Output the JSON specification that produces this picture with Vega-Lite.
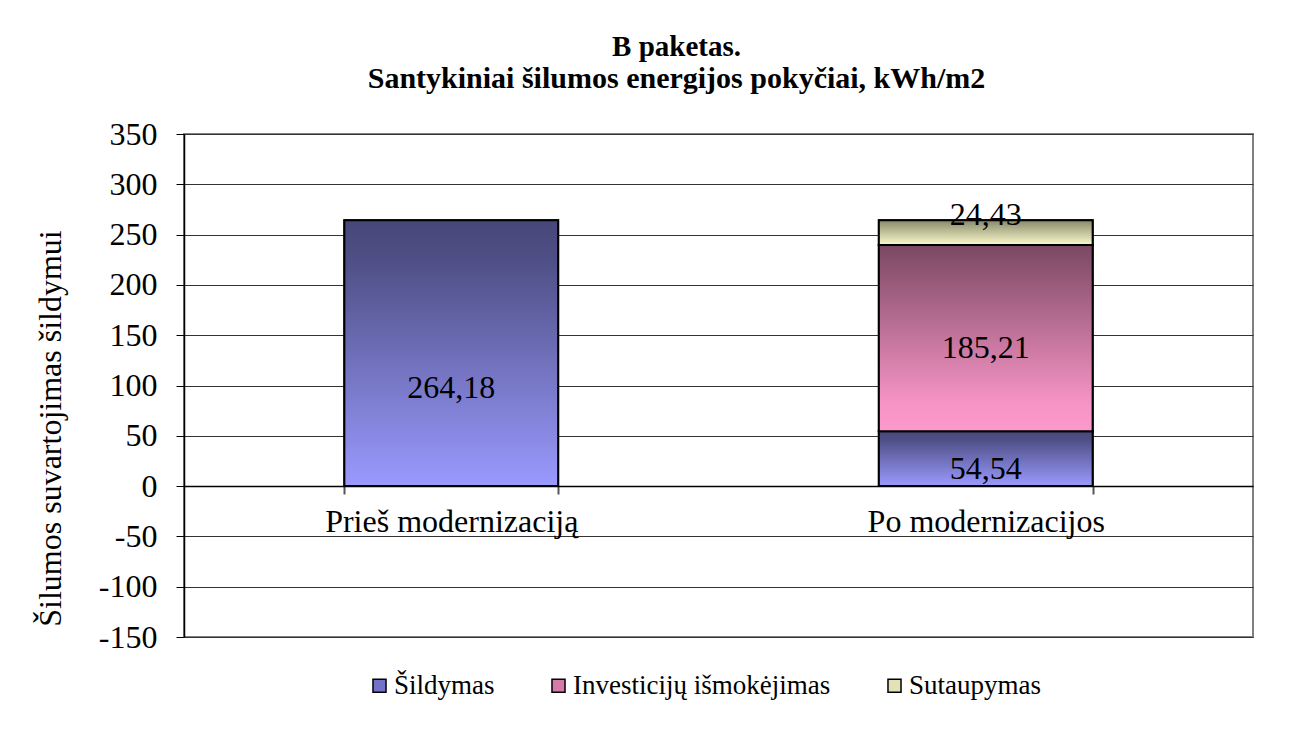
{
  "$schema": "https://vega.github.io/schema/vega-lite/v6.json",
  "autosize": {"type": "none"},
  "width": 1069,
  "height": 503,
  "padding": {"left": 184, "top": 134, "right": 54, "bottom": 103},
  "background": "white",
  "config": {
    "locale": {"number": {"decimal": ",", "thousands": ".", "grouping": [3], "currency": ["", ""], "minus": "-"}},
    "view": {"stroke": "#808080", "strokeWidth": 2},
    "font": "Liberation Serif"
  },
  "title": {
    "text": "B paketas.",
    "subtitle": "Santykiniai šilumos energijos pokyčiai, kWh/m2",
    "font": "Liberation Serif",
    "fontSize": 29,
    "fontWeight": "bold",
    "color": "black",
    "subtitleFont": "Liberation Serif",
    "subtitleFontSize": 30,
    "subtitleFontWeight": "bold",
    "subtitleColor": "black",
    "subtitlePadding": 2,
    "anchor": "middle",
    "frame": "group",
    "dx": -42,
    "offset": 24
  },
  "data": {
    "values": [
      {"category": "Prieš modernizaciją", "series": "Šildymas", "value": 264.18, "order": 1},
      {"category": "Po modernizacijos", "series": "Šildymas", "value": 54.54, "order": 1},
      {"category": "Po modernizacijos", "series": "Investicijų išmokėjimas", "value": 185.21, "order": 2},
      {"category": "Po modernizacijos", "series": "Sutaupymas", "value": 24.43, "order": 3}
    ]
  },
  "transform": [
    {"stack": "value", "groupby": ["category"], "sort": [{"field": "order", "order": "ascending"}], "as": ["y0", "y1"]},
    {"calculate": "(datum.y0 + datum.y1) / 2", "as": "ymid"}
  ],
  "encoding": {
    "x": {
      "field": "category",
      "type": "nominal",
      "sort": ["Prieš modernizaciją", "Po modernizacijos"],
      "scale": {"paddingInner": 0.6, "paddingOuter": 0.3},
      "axis": {
        "title": null,
        "orient": "bottom",
        "offset": -151,
        "labelAngle": 0,
        "labelFont": "Liberation Serif",
        "labelFontSize": 32,
        "labelColor": "black",
        "labelPadding": 12,
        "labelLimit": 500,
        "tickBand": "extent",
        "tickSize": 8,
        "tickColor": "#555",
        "tickWidth": 2,
        "domainColor": "black",
        "domainWidth": 1.5,
        "grid": false
      }
    }
  },
  "layer": [
    {
      "mark": {"type": "bar", "stroke": "black", "strokeWidth": 2},
      "encoding": {
        "y": {
          "field": "y0",
          "type": "quantitative",
          "title": "Šilumos suvartojimas šildymui",
          "scale": {"domain": [-150, 350], "nice": false, "zero": false},
          "axis": {
            "values": [-150, -100, -50, 0, 50, 100, 150, 200, 250, 300, 350],
            "labelFont": "Liberation Serif",
            "labelFontSize": 32,
            "labelColor": "black",
            "labelPadding": 19,
            "tickSize": 8,
            "tickColor": "black",
            "domainColor": "black",
            "domainWidth": 1.5,
            "grid": true,
            "gridColor": "#333",
            "gridWidth": 1,
            "titleFont": "Liberation Serif",
            "titleFontSize": 32,
            "titleFontWeight": "normal",
            "titleColor": "black",
            "titleAngle": -90,
            "titleX": -134,
            "titleY": 294,
            "titleAlign": "center",
            "titleBaseline": "middle",
            "titleLimit": 600
          }
        },
        "y2": {"field": "y1"},
        "color": {
          "field": "series",
          "type": "nominal",
          "scale": {
            "domain": ["Šildymas", "Investicijų išmokėjimas", "Sutaupymas"],
            "range": ["#7272c8", "#d77aa8", "#e2e2b6"]
          },
          "legend": {
            "title": null,
            "orient": "none",
            "legendX": 182,
            "legendY": 538,
            "padding": 0,
            "direction": "horizontal",
            "symbolType": "square",
            "symbolSize": 170,
            "symbolStrokeColor": "black",
            "symbolStrokeWidth": 1.5,
            "symbolOpacity": 1,
            "labelFont": "Liberation Serif",
            "labelFontSize": 27,
            "labelColor": "black",
            "labelOffset": 1,
            "columnPadding": 50,
            "labelLimit": 400
          }
        }
      }
    },
    {
      "transform": [{"filter": "datum.series === 'Šildymas'"}],
      "mark": {
        "type": "bar",
        "stroke": "black",
        "strokeWidth": 2,
        "fill": {"gradient": "linear", "x1": 0, "y1": 0, "x2": 0, "y2": 1,
          "stops": [{"offset": 0, "color": "#47477a"}, {"offset": 0.15, "color": "#4f4f86"}, {"offset": 1, "color": "#9a9aff"}]}
      },
      "encoding": {
        "y": {"field": "y0", "type": "quantitative", "title": "Šilumos suvartojimas šildymui"},
        "y2": {"field": "y1"}
      }
    },
    {
      "transform": [{"filter": "datum.series === 'Investicijų išmokėjimas'"}],
      "mark": {
        "type": "bar",
        "stroke": "black",
        "strokeWidth": 2,
        "fill": {"gradient": "linear", "x1": 0, "y1": 0, "x2": 0, "y2": 1,
          "stops": [{"offset": 0, "color": "#7a4862"}, {"offset": 0.85, "color": "#f794c6"}, {"offset": 1, "color": "#fc99cc"}]}
      },
      "encoding": {
        "y": {"field": "y0", "type": "quantitative", "title": "Šilumos suvartojimas šildymui"},
        "y2": {"field": "y1"}
      }
    },
    {
      "transform": [{"filter": "datum.series === 'Sutaupymas'"}],
      "mark": {
        "type": "bar",
        "stroke": "black",
        "strokeWidth": 2,
        "fill": {"gradient": "linear", "x1": 0, "y1": 0, "x2": 0, "y2": 1,
          "stops": [{"offset": 0, "color": "#8a8a6c"}, {"offset": 1, "color": "#fafacc"}]}
      },
      "encoding": {
        "y": {"field": "y0", "type": "quantitative", "title": "Šilumos suvartojimas šildymui"},
        "y2": {"field": "y1"}
      }
    },
    {
      "transform": [{"filter": "datum.category === 'Prieš modernizaciją'"}],
      "mark": {"type": "text", "font": "Liberation Serif", "fontSize": 32, "color": "black", "baseline": "middle", "align": "center", "dy": 35},
      "encoding": {
        "y": {"field": "ymid", "type": "quantitative", "title": "Šilumos suvartojimas šildymui"},
        "text": {"field": "value", "type": "quantitative", "format": ".2f"}
      }
    },
    {
      "transform": [{"filter": "datum.category === 'Po modernizacijos' && datum.series !== 'Sutaupymas'"}],
      "mark": {"type": "text", "font": "Liberation Serif", "fontSize": 32, "color": "black", "baseline": "middle", "align": "center", "dy": 10},
      "encoding": {
        "y": {"field": "ymid", "type": "quantitative", "title": "Šilumos suvartojimas šildymui"},
        "text": {"field": "value", "type": "quantitative", "format": ".2f"}
      }
    },
    {
      "transform": [{"filter": "datum.series === 'Sutaupymas'"}],
      "mark": {"type": "text", "font": "Liberation Serif", "fontSize": 32, "color": "black", "baseline": "middle", "align": "center", "dy": -18},
      "encoding": {
        "y": {"field": "ymid", "type": "quantitative", "title": "Šilumos suvartojimas šildymui"},
        "text": {"field": "value", "type": "quantitative", "format": ".2f"}
      }
    }
  ]
}
